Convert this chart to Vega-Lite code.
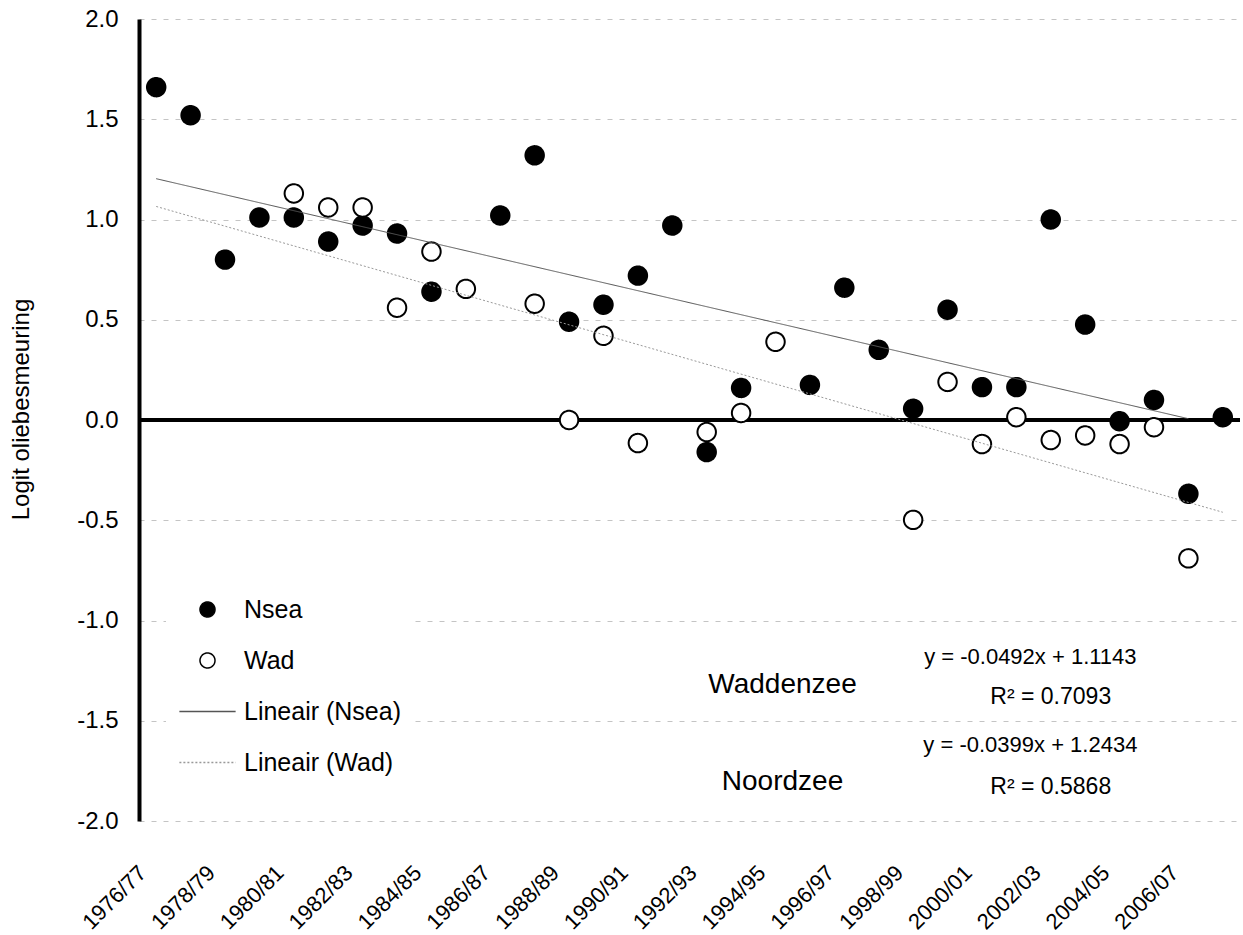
{
  "$schema": "https://vega.github.io/schema/vega-lite/v6.json",
  "width": 1101,
  "height": 802,
  "autosize": {"type": "none"},
  "padding": {"left": 139, "top": 19, "right": 3, "bottom": 114},
  "background": "white",
  "config": {
    "view": {"stroke": null},
    "font": "Liberation Sans",
    "legend": {
      "orient": "none",
      "legendX": 27,
      "legendY": 570,
      "labelFont": "Liberation Sans",
      "labelFontSize": 25,
      "labelColor": "black",
      "symbolSize": 225,
      "symbolStrokeWidth": 1.5,
      "rowPadding": 25,
      "padding": 8,
      "fillColor": "white",
      "symbolOffset": 21,
      "labelOffset": 24,
      "labelLimit": 400
    }
  },
  "datasets": {
    "points": [
      {"season": "1976/77", "series": "Nsea", "value": 1.66},
      {"season": "1977/78", "series": "Nsea", "value": 1.52},
      {"season": "1978/79", "series": "Nsea", "value": 0.80},
      {"season": "1979/80", "series": "Nsea", "value": 1.01},
      {"season": "1980/81", "series": "Nsea", "value": 1.01},
      {"season": "1981/82", "series": "Nsea", "value": 0.89},
      {"season": "1982/83", "series": "Nsea", "value": 0.97},
      {"season": "1983/84", "series": "Nsea", "value": 0.93},
      {"season": "1984/85", "series": "Nsea", "value": 0.64},
      {"season": "1986/87", "series": "Nsea", "value": 1.02},
      {"season": "1987/88", "series": "Nsea", "value": 1.32},
      {"season": "1988/89", "series": "Nsea", "value": 0.49},
      {"season": "1989/90", "series": "Nsea", "value": 0.575},
      {"season": "1990/91", "series": "Nsea", "value": 0.72},
      {"season": "1991/92", "series": "Nsea", "value": 0.97},
      {"season": "1992/93", "series": "Nsea", "value": -0.16},
      {"season": "1993/94", "series": "Nsea", "value": 0.16},
      {"season": "1995/96", "series": "Nsea", "value": 0.175},
      {"season": "1996/97", "series": "Nsea", "value": 0.66},
      {"season": "1997/98", "series": "Nsea", "value": 0.35},
      {"season": "1998/99", "series": "Nsea", "value": 0.056},
      {"season": "1999/00", "series": "Nsea", "value": 0.55},
      {"season": "2000/01", "series": "Nsea", "value": 0.164},
      {"season": "2001/02", "series": "Nsea", "value": 0.164},
      {"season": "2002/03", "series": "Nsea", "value": 1.0},
      {"season": "2003/04", "series": "Nsea", "value": 0.476},
      {"season": "2004/05", "series": "Nsea", "value": -0.006},
      {"season": "2005/06", "series": "Nsea", "value": 0.10},
      {"season": "2006/07", "series": "Nsea", "value": -0.368},
      {"season": "2007/08", "series": "Nsea", "value": 0.014},
      {"season": "1980/81", "series": "Wad", "value": 1.13},
      {"season": "1981/82", "series": "Wad", "value": 1.06},
      {"season": "1982/83", "series": "Wad", "value": 1.06},
      {"season": "1983/84", "series": "Wad", "value": 0.56},
      {"season": "1984/85", "series": "Wad", "value": 0.84},
      {"season": "1985/86", "series": "Wad", "value": 0.654},
      {"season": "1987/88", "series": "Wad", "value": 0.58},
      {"season": "1988/89", "series": "Wad", "value": 0.0},
      {"season": "1989/90", "series": "Wad", "value": 0.42},
      {"season": "1990/91", "series": "Wad", "value": -0.115},
      {"season": "1992/93", "series": "Wad", "value": -0.06},
      {"season": "1993/94", "series": "Wad", "value": 0.035},
      {"season": "1994/95", "series": "Wad", "value": 0.39},
      {"season": "1998/99", "series": "Wad", "value": -0.498},
      {"season": "1999/00", "series": "Wad", "value": 0.19},
      {"season": "2000/01", "series": "Wad", "value": -0.12},
      {"season": "2001/02", "series": "Wad", "value": 0.014},
      {"season": "2002/03", "series": "Wad", "value": -0.10},
      {"season": "2003/04", "series": "Wad", "value": -0.077},
      {"season": "2004/05", "series": "Wad", "value": -0.12},
      {"season": "2005/06", "series": "Wad", "value": -0.036},
      {"season": "2006/07", "series": "Wad", "value": -0.69}
    ],
    "trend": [
      {"season": "1976/77", "series": "Lineair (Nsea)", "value": 1.2035},
      {"season": "2006/07", "series": "Lineair (Nsea)", "value": 0.0065},
      {"season": "1976/77", "series": "Lineair (Wad)", "value": 1.0651},
      {"season": "2007/08", "series": "Lineair (Wad)", "value": -0.4601}
    ],
    "regions": [
      {"label": "Waddenzee", "season": "1994/95", "value": -1.32},
      {"label": "Noordzee", "season": "1994/95", "value": -1.805}
    ],
    "equations": [
      {"label": "y = -0.0492x + 1.1143", "season": "2001/02", "value": -1.18},
      {"label": "y = -0.0399x + 1.2434", "season": "2001/02", "value": -1.62}
    ],
    "rsquared": [
      {"label": "R² = 0.7093", "season": "2002/03", "value": -1.38},
      {"label": "R² = 0.5868", "season": "2002/03", "value": -1.83}
    ]
  },
  "layer": [
    {
      "data": {"name": "points"},
      "mark": {"type": "rule", "color": "black", "strokeWidth": 4},
      "encoding": {"y": {"datum": 0, "type": "quantitative"}}
    },
    {
      "data": {"name": "points"},
      "mark": {"type": "point", "opacity": 1, "strokeWidth": 2, "size": 340},
      "encoding": {
        "x": {
          "field": "season",
          "type": "ordinal",
          "scale": {
            "type": "point",
            "padding": 0.5,
            "domain": ["1976/77","1977/78","1978/79","1979/80","1980/81","1981/82","1982/83","1983/84","1984/85","1985/86","1986/87","1987/88","1988/89","1989/90","1990/91","1991/92","1992/93","1993/94","1994/95","1995/96","1996/97","1997/98","1998/99","1999/00","2000/01","2001/02","2002/03","2003/04","2004/05","2005/06","2006/07","2007/08"]
          },
          "axis": {
            "values": ["1976/77","1978/79","1980/81","1982/83","1984/85","1986/87","1988/89","1990/91","1992/93","1994/95","1996/97","1998/99","2000/01","2002/03","2004/05","2006/07"],
            "title": null,
            "labelAngle": -45,
            "labelAlign": "right",
            "labelBaseline": "middle",
            "labelFont": "Liberation Sans",
            "labelFontSize": 22,
            "labelColor": "black",
            "labelPadding": 48,
            "labelOffset": -14,
            "ticks": false,
            "domain": false,
            "grid": false
          }
        },
        "y": {
          "field": "value",
          "type": "quantitative",
          "scale": {"domain": [-2, 2], "nice": false, "zero": false},
          "axis": {
            "values": [-2, -1.5, -1, -0.5, 0, 0.5, 1, 1.5, 2],
            "labelExpr": "replace(format(datum.value, '.1f'), '−', '-')",
            "title": "Logit oliebesmeuring",
            "titleFont": "Liberation Sans",
            "titleFontSize": 24,
            "titleFontWeight": "normal",
            "titleColor": "black",
            "titleX": -118,
            "titleY": 390,
            "titleAngle": 270,
            "titleAlign": "center",
            "titleBaseline": "middle",
            "labelFont": "Liberation Sans",
            "labelFontSize": 24,
            "labelColor": "black",
            "labelPadding": 21,
            "ticks": false,
            "domainColor": "black",
            "domainWidth": 4,
            "grid": true,
            "gridColor": "#c4c4c4",
            "gridDash": [5, 7],
            "gridWidth": 1
          }
        },
        "shape": {
          "field": "series",
          "type": "nominal",
          "scale": {
            "domain": ["Nsea", "Wad", "Lineair (Nsea)", "Lineair (Wad)"],
            "range": ["circle", "circle", "M-3.75,0H3.75", "M-3.75,0H3.75"]
          },
          "legend": {"title": null}
        },
        "fill": {
          "field": "series",
          "type": "nominal",
          "scale": {
            "domain": ["Nsea", "Wad", "Lineair (Nsea)", "Lineair (Wad)"],
            "range": ["black", "white", "white", "white"]
          },
          "legend": {"title": null}
        },
        "stroke": {
          "field": "series",
          "type": "nominal",
          "scale": {
            "domain": ["Nsea", "Wad", "Lineair (Nsea)", "Lineair (Wad)"],
            "range": ["black", "black", "#555555", "#999999"]
          },
          "legend": {"title": null}
        },
        "strokeDash": {
          "field": "series",
          "type": "nominal",
          "scale": {
            "domain": ["Nsea", "Wad", "Lineair (Nsea)", "Lineair (Wad)"],
            "range": [[1, 0], [1, 0], [1, 0], [2, 2]]
          },
          "legend": {"title": null}
        }
      }
    },
    {
      "data": {"name": "trend"},
      "mark": {"type": "line", "strokeWidth": 1},
      "encoding": {
        "x": {"field": "season", "type": "ordinal"},
        "y": {"field": "value", "type": "quantitative"},
        "stroke": {"field": "series", "type": "nominal", "legend": {"title": null}},
        "strokeDash": {"field": "series", "type": "nominal", "legend": {"title": null}}
      }
    },
    {
      "data": {"name": "regions"},
      "mark": {"type": "text", "fontSize": 28, "font": "Liberation Sans", "color": "black", "align": "center", "baseline": "middle", "dx": 7},
      "encoding": {
        "x": {"field": "season", "type": "ordinal"},
        "y": {"field": "value", "type": "quantitative"},
        "text": {"field": "label"}
      }
    },
    {
      "data": {"name": "equations"},
      "mark": {"type": "text", "fontSize": 22, "font": "Liberation Sans", "color": "black", "align": "center", "baseline": "middle", "dx": 14},
      "encoding": {
        "x": {"field": "season", "type": "ordinal"},
        "y": {"field": "value", "type": "quantitative"},
        "text": {"field": "label"}
      }
    },
    {
      "data": {"name": "rsquared"},
      "mark": {"type": "text", "fontSize": 23, "font": "Liberation Sans", "color": "black", "align": "center", "baseline": "middle"},
      "encoding": {
        "x": {"field": "season", "type": "ordinal"},
        "y": {"field": "value", "type": "quantitative"},
        "text": {"field": "label"}
      }
    }
  ]
}
